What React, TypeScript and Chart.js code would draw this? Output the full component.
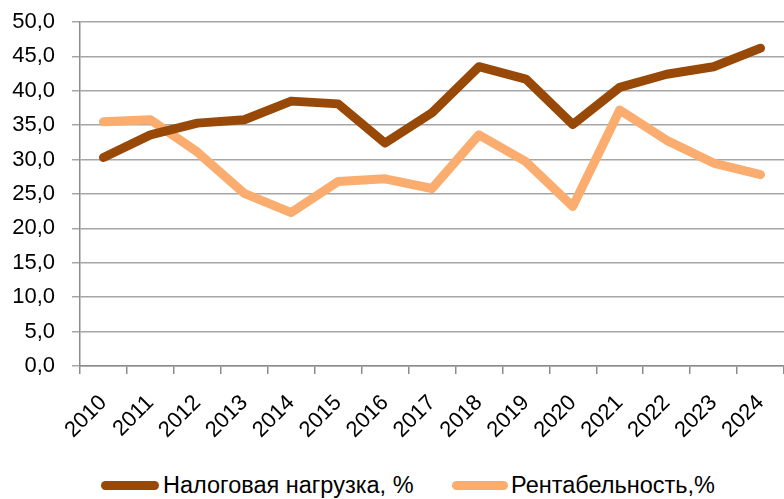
import React, { useEffect, useRef } from "react";
import { Chart, registerables } from "chart.js";

Chart.register(...registerables);

const years = ["2010", "2011", "2012", "2013", "2014", "2015", "2016", "2017", "2018", "2019", "2020", "2021", "2022", "2023", "2024"];
const taxBurden = [30.3, 33.6, 35.3, 35.8, 38.5, 38.1, 32.4, 36.8, 43.5, 41.7, 35.1, 40.5, 42.4, 43.5, 46.2];
const profitability = [35.5, 35.8, 31.1, 25.1, 22.3, 26.8, 27.2, 25.8, 33.6, 29.7, 23.2, 37.2, 32.8, 29.5, 27.8];
const seriesNames = ["Налоговая нагрузка, %", "Рентабельность,%"];
const seriesColors = ["#984807", "#FAAD6E"];
const yMin = 0;
const yMax = 50;
const yStep = 5;

const FONT = "'Liberation Sans', Arial, sans-serif";

export default function App() {
  const ref = useRef<HTMLCanvasElement | null>(null);

  useEffect(() => {
    if (!ref.current) return;
    const chart = new Chart(ref.current, {
      type: "line",
      data: {
        labels: years,
        datasets: [
          {
            label: seriesNames[0],
            data: taxBurden,
            borderColor: seriesColors[0],
            backgroundColor: seriesColors[0],
            borderWidth: 9,
            pointRadius: 0,
            tension: 0,
            borderJoinStyle: "round",
            borderCapStyle: "round",
          },
          {
            label: seriesNames[1],
            data: profitability,
            borderColor: seriesColors[1],
            backgroundColor: seriesColors[1],
            borderWidth: 9,
            pointRadius: 0,
            tension: 0,
            borderJoinStyle: "round",
            borderCapStyle: "round",
          },
        ],
      },
      options: {
        responsive: false,
        animation: false,
        layout: { padding: { top: 22, right: 0, left: 0, bottom: 0 } },
        plugins: { legend: { display: false }, tooltip: { enabled: false } },
        scales: {
          x: {
            type: "category",
            offset: true,
            grid: { offset: true, drawOnChartArea: false, drawTicks: true, tickLength: 8, color: "#8c8c8c", lineWidth: 1.5 },
            border: { color: "#8c8c8c", width: 1.5 },
            ticks: { minRotation: 45, maxRotation: 45, padding: 16, color: "#000", font: { family: FONT, size: 22 } },
            afterFit: (s: any) => { s.height = 89; s.paddingLeft = 0; s.paddingRight = 0; },
          },
          y: {
            min: yMin,
            max: yMax,
            grid: { color: "#a6a6a6", lineWidth: 1.5, tickLength: 8, drawTicks: true },
            border: { color: "#8c8c8c", width: 1.5 },
            ticks: {
              stepSize: yStep,
              padding: 17,
              color: "#000",
              font: { family: FONT, size: 22 },
              callback: (v: any) => Number(v).toFixed(1).replace(".", ","),
            },
            afterFit: (s: any) => { s.width = 80; s.paddingTop = 0; s.paddingBottom = 0; },
          },
        },
      },
    });
    return () => chart.destroy();
  }, []);

  const legendText: React.CSSProperties = {
    position: "absolute",
    top: 471,
    fontFamily: FONT,
    fontSize: 23.5,
    lineHeight: "28px",
    color: "#000",
    whiteSpace: "nowrap",
  };
  const legendLine = (left: number, width: number, color: string): React.CSSProperties => ({
    position: "absolute",
    left,
    top: 481,
    width,
    height: 9,
    borderRadius: 5,
    background: color,
  });

  return (
    <div style={{ position: "absolute", left: 0, top: 0, width: 784, height: 499, background: "#fff", overflow: "hidden" }}>
      <canvas ref={ref} width={784} height={455} style={{ display: "block", width: 784, height: 455 }} />
      <div style={legendLine(101, 58, seriesColors[0])} />
      <div style={{ ...legendText, left: 163 }}>{seriesNames[0]}</div>
      <div style={legendLine(452, 56, seriesColors[1])} />
      <div style={{ ...legendText, left: 511 }}>{seriesNames[1]}</div>
    </div>
  );
}
